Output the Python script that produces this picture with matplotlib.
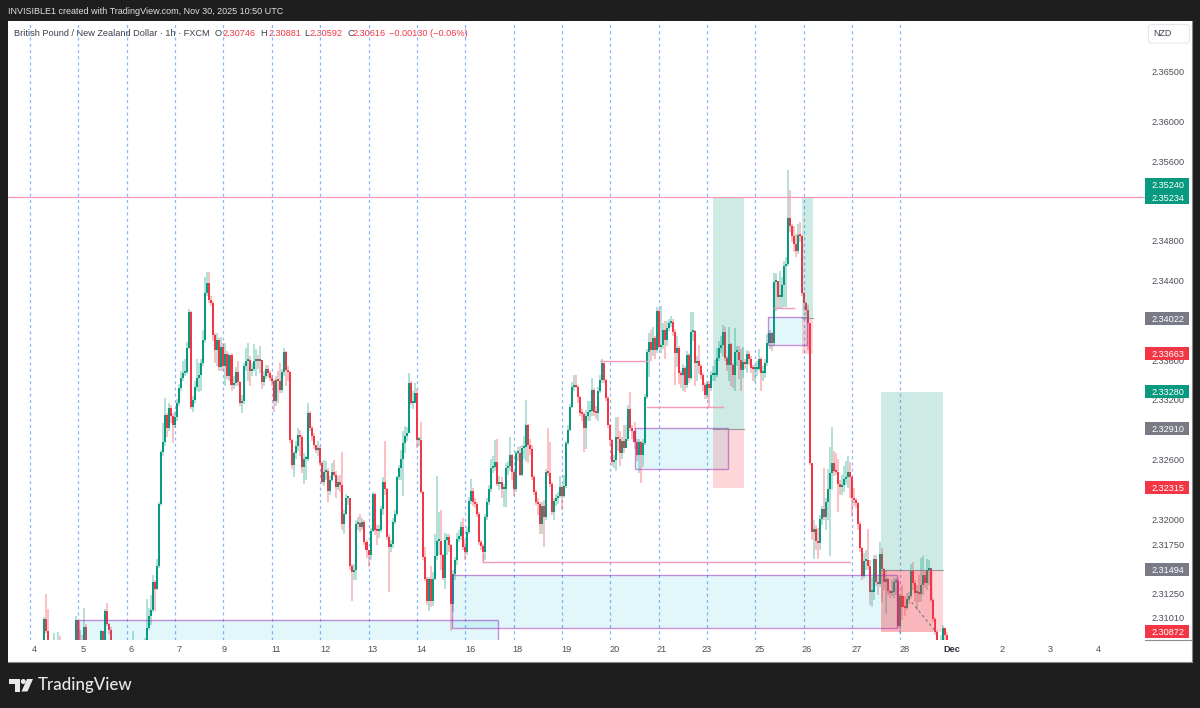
import numpy as np
import matplotlib
matplotlib.use("Agg")
import matplotlib.pyplot as plt
from matplotlib.patches import Rectangle, Polygon, Circle, FancyBboxPatch
from matplotlib.collections import LineCollection

plt.rcParams['font.family'] = ['Liberation Sans', 'DejaVu Sans']

# Hourly candles, prices = PRICE_BASE + n * PRICE_UNIT, one line per trading day
PRICE_BASE = 2.2999
PRICE_UNIT = 1e-4
close_n = [
 62,66,60,64,58,62,70,101,89,75,65,62,64,60,78,72,64,62,60,58,62,66,62,100,
 70,72,68,93,75,66,62,60,62,64,70,89,78,109,96,90,75,66,62,60,58,60,62,60,
 62,60,64,66,62,60,62,66,72,80,92,104,110,138,131,154,216,269,279,306,293,313,305,296,
 304,318,333,343,348,349,373,409,314,321,334,343,346,358,381,428,438,421,418,386,371,381,354,374,
 355,367,345,366,336,338,349,339,318,320,355,360,361,350,352,360,362,360,361,339,345,352,348,343,
 340,320,341,340,331,349,369,351,349,281,256,268,275,286,284,254,262,262,308,293,285,276,271,273,
 258,238,249,250,229,240,249,246,233,238,235,196,206,222,222,154,148,150,196,197,193,198,178,170,
 165,189,226,190,189,190,211,238,231,183,173,176,198,206,243,253,262,278,285,288,338,318,318,328,
 281,281,228,163,141,119,141,119,141,164,179,179,165,142,180,183,175,116,146,160,181,184,193,173,
 168,188,219,229,218,216,206,178,174,168,203,218,231,253,254,259,236,238,231,231,253,255,266,249,
 231,268,268,246,273,274,296,276,272,243,228,218,216,196,214,203,249,248,236,208,219,222,224,233,
 224,234,278,291,314,334,336,334,324,308,307,293,305,309,310,331,309,308,330,341,358,341,323,296,
 281,259,261,284,282,268,280,273,282,312,293,290,279,266,279,266,278,324,369,379,371,383,371,410,
 374,376,391,381,393,398,399,389,368,373,348,346,353,336,366,343,389,390,358,360,355,346,336,326,
 337,333,346,346,346,363,373,376,389,363,356,377,356,346,369,369,361,351,359,357,367,362,353,352,
 352,352,362,348,348,358,378,388,378,439,440,424,424,436,456,458,504,496,486,478,471,487,486,428,
 418,411,398,258,188,191,179,177,201,211,203,218,231,248,258,250,249,236,233,235,241,243,249,243,
 222,220,217,196,172,144,159,160,154,128,128,161,138,136,166,151,138,141,129,127,128,138,139,94,
 124,113,112,121,124,149,137,127,128,126,135,145,137,150,152,120,101,88,75,72,78,92,85,62,
]
high_n = [
 66,68,66,66,64,64,72,103,126,111,76,66,87,66,88,84,73,65,64,62,64,68,67,104,
 100,90,85,112,96,76,68,64,66,68,74,90,89,111,117,97,93,76,68,64,62,63,66,64,
 65,64,67,89,67,64,65,68,74,82,121,112,125,145,140,161,218,271,298,323,308,318,316,308,
 310,322,337,350,360,362,379,412,410,325,340,362,358,362,391,444,450,450,425,420,388,388,383,384,
 378,378,370,368,368,345,354,360,340,326,358,373,378,365,358,377,372,366,375,360,350,356,356,350,
 346,342,345,350,358,352,373,370,355,350,282,270,280,293,291,286,268,265,318,310,295,288,276,280,
 275,260,261,260,253,245,258,261,250,244,246,269,210,226,224,222,156,156,200,203,206,202,200,180,
 170,192,228,227,195,195,214,243,280,232,186,180,202,210,245,256,271,290,295,294,348,340,330,338,
 332,284,299,229,173,143,143,154,148,186,244,208,210,166,187,186,186,176,150,163,187,190,198,202,
 180,193,223,241,232,222,218,208,180,176,206,222,235,262,265,281,282,245,243,236,258,260,284,267,
 250,270,274,275,276,285,321,297,282,276,246,230,222,218,218,220,252,293,279,238,222,226,228,245,
 235,246,280,296,317,339,346,346,336,325,312,309,311,320,320,343,333,315,334,346,362,358,342,325,
 297,282,266,304,304,290,284,296,296,316,329,296,299,282,282,280,282,327,372,388,391,394,385,414,
 412,415,398,400,400,402,405,402,392,385,375,350,357,355,370,368,409,409,391,365,376,357,348,338,
 340,340,350,355,361,373,380,385,396,394,365,394,378,358,393,375,375,372,374,362,371,370,365,356,
 356,360,372,364,355,362,387,391,389,449,449,440,451,445,461,465,552,532,498,496,488,498,500,487,
 429,419,416,398,258,200,195,192,205,214,253,222,252,274,294,270,268,262,240,246,255,260,265,259,
 244,232,222,218,198,173,167,170,191,160,143,165,165,145,178,172,152,150,142,130,140,142,142,142,
 126,135,124,127,128,156,158,140,135,145,162,164,150,161,160,152,122,103,90,78,85,95,92,88,
]
low_n = [
 58,60,56,56,54,56,60,68,87,72,60,58,60,55,58,70,60,58,56,55,56,60,60,60,
 66,68,64,66,70,62,58,56,58,60,62,68,74,76,94,86,70,60,58,56,54,56,58,56,
 58,56,58,62,58,56,58,60,64,70,78,90,95,108,109,130,152,214,265,275,284,290,298,278,
 293,300,315,330,340,345,347,372,312,309,318,330,329,330,355,378,425,418,415,380,358,355,350,350,
 350,335,342,340,330,332,335,335,315,308,317,350,340,335,345,350,345,352,348,332,335,342,344,340,
 335,309,315,318,328,328,345,335,340,278,252,243,262,270,265,248,236,240,260,290,280,272,268,265,
 255,236,234,240,218,225,238,243,222,230,228,190,186,205,215,150,119,140,140,190,188,190,175,162,
 153,160,188,185,175,182,188,205,225,180,128,168,172,196,204,240,240,224,268,280,288,316,312,318,
 273,275,226,160,139,115,109,113,114,140,160,165,150,140,131,165,168,89,108,140,155,178,180,170,
 160,165,186,216,214,212,203,175,170,159,160,200,215,228,248,250,234,230,222,213,213,246,250,240,
 224,228,260,244,244,262,260,258,266,240,225,215,205,186,186,173,200,245,233,205,200,214,216,222,
 210,222,232,276,290,313,330,333,318,305,300,269,272,300,300,305,305,302,300,328,338,338,320,293,
 276,255,253,250,270,255,262,268,278,280,290,282,272,260,248,237,254,276,322,344,360,365,362,368,
 372,368,372,362,375,390,394,385,336,354,337,333,330,329,333,338,341,380,335,340,347,342,330,322,
 322,313,330,340,340,344,360,368,365,360,350,340,335,333,330,355,342,330,343,352,348,356,348,340,
 339,345,350,330,340,343,355,372,370,375,410,413,413,412,414,414,456,490,480,470,465,468,480,425,
 410,405,371,256,180,161,170,161,170,195,200,190,200,164,230,245,246,208,225,225,228,235,232,222,
 203,214,212,190,168,140,142,150,150,115,113,120,134,125,133,118,130,106,125,122,124,122,125,92,
 86,100,104,110,116,122,130,118,110,118,118,125,132,130,135,118,98,85,72,68,70,72,70,59,
]

day_labels = ['4','5','6','7','9','11','12','13','14','16','18','19','20','21','23','25','26','27','28','Dec','2','3','4']
day_label_bars = [2,26.3,50,74,96.3,122,146.4,170,194,218.4,242,266,290,313.6,336,362,385.6,410,434,457.6,482.4,506.2,530]
session_lines = [24*k for k in range(19)]

price_ticks = [2.365,2.36,2.356,2.348,2.344,2.336,2.332,2.326,2.32,2.3175,2.3125,2.3101]

# position tools: [left bar, right bar], target, entry, stop
long_left = [339, 383.1, 422.1]
long_right = [354.3, 388.4, 453.3]
long_target = [2.35234, 2.35234, 2.33280]
long_entry = [2.32910, 2.34022, 2.31494]
long_stop = [2.32315, 2.33663, 2.30872]
second_stop_right = 448.1

# zones: left bar, right bar, top, bottom
zone_left = [24.3, 209.6, 300.2, 366.4]
zone_right = [232.3, 430.3, 346.5, 385.5]
zone_top = [2.30988, 2.31440, 2.32922, 2.34033]
zone_bottom = [2.29500, 2.30907, 2.32505, 2.33749]

# pink levels: from bar, to bar, price
level_from = [283, 306, 369, 225]
level_to = [306, 344, 379, 407]
level_price = [2.33591, 2.33128, 2.34123, 2.31571]
full_line_price = 2.35234

# price-scale tags: text, price, colour key, pixel shift up
tag_text = ['2.35240','2.35234','2.34022','2.33663','2.33280','2.32910','2.32315','2.31494','2.30872']
tag_price = [2.35234,2.35234,2.34022,2.33663,2.33280,2.32910,2.32315,2.31494,2.30872]
tag_kind = ['g','g','n','r','g','n','r','n','r']
tag_shift = [13,0,0,0,0,0,0,0,0]

UP, DOWN, NEUT = '#089981', '#f23645', '#787b86'
W, H = 1200, 708
fig = plt.figure(figsize=(12, 7.08), dpi=100, facecolor='#1e1e1e')

page = fig.add_axes([0, 0, 1, 1], zorder=0)
page.set_xlim(0, W); page.set_ylim(H, 0); page.axis('off')
page.add_patch(Rectangle((8, 21), 1183.5, 640.5, fc='white', ec='none'))
page.plot([1191.6, 1191.6], [21, 661.5], color='#8a8a8a', lw=0.8)
page.plot([8, 1191.6], [661.5, 661.5], color='#8a8a8a', lw=0.8)
page.plot([1145, 1191], [640, 640], color='#8a8e96', lw=0.8)

# header, legend
page.text(8, 12, 'INVISIBLE1 created with TradingView.com, Nov 30, 2025 10:50 UTC', color='#e0e0e0', fontsize=6.45, va='center')
page.text(14, 33.5, 'British Pound / New Zealand Dollar · 1h · FXCM', color='#3a3e4a', fontsize=6.6, va='center')
for xp, s, c in [(215,'O','#3a3e4a'),(222,'2.30746',DOWN),(260,'H','#3a3e4a'),(268,'2.30881',DOWN),
                 (304,'L','#3a3e4a'),(309,'2.30592',DOWN),(347,'C','#3a3e4a'),(352,'2.30616',DOWN),
                 (389,'−0.00130 (−0.06%)',DOWN)]:
    page.text(xp, 33.5, s, color=c, fontsize=6.6, va='center')

# currency button
page.add_patch(FancyBboxPatch((1148.5, 24.5), 41, 18.5, boxstyle='round,pad=0,rounding_size=3', fc='white', ec='#e6e8ee', lw=0.8))
page.text(1162.5, 33.5, 'NZD', color='#3a3e4a', fontsize=6.4, ha='center', va='center')

# TradingView logo
lc = '#e8e8e8'
page.add_patch(Polygon([(9,679),(20,679),(20,691.5),(15,691.5),(15,684),(9,684)], fc=lc, ec='none'))
page.add_patch(Circle((23.3,681.5), 2.5, fc=lc, ec='none'))
page.add_patch(Polygon([(27,679),(33,679),(27.5,691.5),(21.5,691.5)], fc=lc, ec='none'))
page.text(38, 685, 'TradingView', color=lc, fontsize=12.2, va='center', family=['Lato','Liberation Sans'], weight='medium')

# main chart
PX_PER_BAR = 2.015
X0 = 30.0
PX_PER_PRICE = 9950.0
ax = fig.add_axes([8/W, (H-640)/H, (1145-8)/W, 619/H], zorder=1)
ax.patch.set_alpha(0)
ax.set_xlim((8-X0)/PX_PER_BAR, (1145-X0)/PX_PER_BAR)
ax.set_ylim(2.35234-(640-197.5)/PX_PER_PRICE, 2.35234-(21-197.5)/PX_PER_PRICE)
for s in ax.spines.values():
    s.set_visible(False)

close_p = PRICE_BASE + np.array(close_n) * PRICE_UNIT
high_p = PRICE_BASE + np.array(high_n) * PRICE_UNIT
low_p = PRICE_BASE + np.array(low_n) * PRICE_UNIT
open_p = np.r_[close_p[0], close_p[:-1]]
bars = np.arange(len(close_p))

for b in session_lines:
    ax.axvline(b, color='#8ab4f8', lw=0.9, dashes=(2.4, 2.6), zorder=1)

is_up = close_p >= open_p
colors = np.where(is_up, UP, DOWN)
wicks = [[(b, l), (b, h)] for b, l, h in zip(bars, low_p, high_p)]
ax.add_collection(LineCollection(wicks, colors=list(colors), linewidths=1.2, alpha=0.36, zorder=2))
ax.bar(bars, np.maximum(np.abs(close_p-open_p), 2.0/PX_PER_PRICE), bottom=np.minimum(open_p, close_p),
       width=1.0, color=colors, linewidth=0, zorder=3)

# zones
for l, r, t, b in zip(zone_left, zone_right, zone_top, zone_bottom):
    ax.add_patch(Rectangle((l, b), r-l, t-b, fc=(0, 0.737, 0.831, 0.115), ec='none', zorder=4))
    ax.add_patch(Rectangle((l, b), r-l, t-b, fc='none', ec=(0.61, 0.15, 0.69, 0.5), lw=1.0, zorder=4.5))

# positions
for l, r, tp, en, st in zip(long_left, long_right, long_target, long_entry, long_stop):
    ax.add_patch(Rectangle((l, en), r-l, tp-en, fc=(0.03, 0.6, 0.506, 0.2), ec='none', zorder=4))
    ax.add_patch(Rectangle((l, st), r-l, en-st, fc=(0.949, 0.212, 0.271, 0.2), ec='none', zorder=4))
    ax.plot([l, r], [en, en], color=NEUT, lw=0.8, alpha=0.7, zorder=4.6)
ax.add_patch(Rectangle((long_left[2], long_stop[2]), second_stop_right-long_left[2], long_entry[2]-long_stop[2],
                       fc=(0.949, 0.212, 0.271, 0.2), ec='none', zorder=4))
ax.plot([435.8, 450.2], [2.31280-0.0007, 2.30925-0.0007], color=NEUT, lw=0.8, ls=(0, (2.5, 2.5)), zorder=4.6)

# levels
for a, b, p in zip(level_from, level_to, level_price):
    ax.plot([a, b], [p, p], color='#f48fb1', lw=1.0, alpha=0.9, zorder=4.6)
ax.plot([225, 225], [2.31571, 2.31661], color='#f48fb1', lw=0.9, zorder=4.6)
ax.axhline(full_line_price, color='#f48fb1', lw=0.9, alpha=0.9, zorder=4.6)

# axes
ax.yaxis.tick_right()
ax.set_yticks(price_ticks)
ax.set_yticklabels([f'{p:.5f}' for p in price_ticks], color='#4a4e58', fontsize=6.6)
ax.tick_params(axis='y', length=0, pad=5)
ax.set_xticks(day_label_bars)
ax.set_xticklabels(day_labels, color='#4a4e58', fontsize=6.6)
ax.tick_params(axis='x', length=0, pad=3.5)
for lab in ax.get_xticklabels():
    if lab.get_text() == 'Dec':
        lab.set_fontweight('bold'); lab.set_color('#2a2e39')

# price-scale tags
kind_col = {'g': UP, 'r': DOWN, 'n': NEUT}
tr = ax.get_yaxis_transform()
ax_w_px = 1145-8
for txt, p, k, sh in zip(tag_text, tag_price, tag_kind, tag_shift):
    pc = p + sh/PX_PER_PRICE
    ax.add_patch(Rectangle((1.0, pc-6.5/PX_PER_PRICE), 43.5/ax_w_px, 13/PX_PER_PRICE, transform=tr,
                           fc=kind_col[k], ec='none', clip_on=False, zorder=6))
    ax.text(1+39/ax_w_px, pc, txt, transform=tr, color='white', fontsize=6.6, ha='right', va='center_baseline',
            clip_on=False, zorder=7)

fig.savefig('out.png', dpi=100, facecolor=fig.get_facecolor())
